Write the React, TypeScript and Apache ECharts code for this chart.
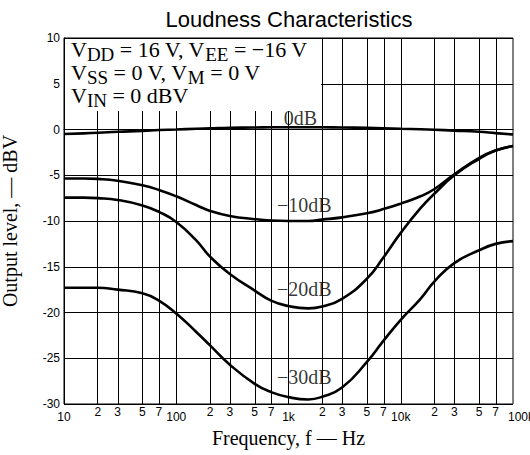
import React, { useEffect, useRef } from "react";
import * as echarts from "echarts";

// ---- data ----
const FREQS = [10, 15, 20, 30, 50, 70, 100, 150, 200, 300, 500, 700, 1000, 1500, 2000, 3000, 5000, 7000, 10000, 15000, 20000, 30000, 50000, 70000, 100000];
const CURVE_0DB = [-0.5, -0.42, -0.35, -0.25, -0.15, -0.05, 0.0, 0.08, 0.12, 0.18, 0.22, 0.24, 0.25, 0.25, 0.24, 0.22, 0.18, 0.14, 0.08, 0.02, -0.03, -0.12, -0.25, -0.4, -0.55];
const CURVE_10DB = [-5.35, -5.35, -5.4, -5.6, -6.1, -6.6, -7.3, -8.25, -8.9, -9.45, -9.8, -9.95, -10.0, -10.0, -9.85, -9.6, -9.15, -8.7, -8.1, -7.3, -6.5, -4.9, -3.1, -2.3, -1.8];
const CURVE_20DB = [-7.45, -7.45, -7.5, -7.7, -8.3, -9.0, -10.1, -12.1, -13.9, -15.8, -17.6, -18.7, -19.3, -19.55, -19.35, -18.5, -16.3, -14.0, -11.3, -8.6, -7.0, -5.0, -3.2, -2.3, -1.8];
const CURVE_30DB = [-17.3, -17.3, -17.3, -17.5, -17.9, -18.7, -20.1, -22.1, -23.6, -25.7, -27.8, -28.7, -29.25, -29.5, -29.2, -28.2, -25.4, -23.1, -20.8, -18.5, -16.6, -14.6, -13.2, -12.5, -12.2];

const LABEL_TEXTS = ["0dB", "\u221210dB", "\u221220dB", "\u221230dB"];
const LABEL_FREQS = [1280, 1380, 1380, 1380];
const LABEL_LEVELS = [1.22, -8.28, -17.4, -27.0];

const GRID_FREQS = [20, 30, 50, 70, 100, 200, 300, 500, 700, 1000, 2000, 3000, 5000, 7000, 10000, 20000, 30000, 50000, 70000];
const DECADE_FREQS = [10, 100, 1000, 10000, 100000];
const DECADE_LABELS = ["10", "100", "1k", "10k", "100k"];
const MINOR_FREQS = [20, 30, 50, 70, 200, 300, 500, 700, 2000, 3000, 5000, 7000, 20000, 30000, 50000, 70000];

const Y_MIN = -30;
const Y_MAX = 10;
const Y_STEP = 5;

const SANS = "'Liberation Sans', Arial, Helvetica, sans-serif";
const SERIF = "'Liberation Serif', 'Times New Roman', Times, serif";

const lg = (f: number) => Math.log10(f);

export default function App() {
  const ref = useRef<HTMLDivElement>(null);
  useEffect(() => {
    if (!ref.current) return;
    const chart = echarts.init(ref.current, undefined, { renderer: "svg" });
    const curve = (vals: number[]) => FREQS.map((f, i) => [lg(f), vals[i]]);
    const lineSeries = (name: string, vals: number[]) => ({
      name,
      type: "line",
      data: curve(vals),
      showSymbol: false,
      smooth: 0.5,
      lineStyle: { color: "#000", width: 2.6 },
      z: 3,
      silent: true,
    });
    const decadeLabel = (v: number) => {
      const i = DECADE_FREQS.findIndex((f) => Math.abs(lg(f) - v) < 1e-6);
      if (i < 0) return "";
      if (i === DECADE_FREQS.length - 1) return "{r|" + DECADE_LABELS[i] + "}";
      return DECADE_LABELS[i];
    };
    const minorLabel = (v: number) => {
      const f = Math.pow(10, v);
      const d = Math.round(f / Math.pow(10, Math.floor(v + 1e-9)));
      return String(d);
    };
    chart.setOption({
      animation: false,
      backgroundColor: "#fff",
      textStyle: { fontFamily: SANS },
      grid: {
        left: 64,
        right: 17,
        top: 38,
        bottom: 51,
        containLabel: false,
        outerBoundsMode: "none",
        show: true,
        borderColor: "#000",
        borderWidth: 1,
        backgroundColor: "transparent",
      },
      xAxis: [
        {
          type: "value",
          min: 1,
          max: 5,
          position: "bottom",
          name: "Frequency, f \u2014 Hz",
          nameLocation: "middle",
          nameGap: 24,
          nameTextStyle: { fontFamily: SERIF, fontSize: 20, color: "#000" },
          axisLine: { show: true, lineStyle: { color: "#000", width: 1 } },
          axisTick: { show: false },
          splitLine: { show: false },
          axisLabel: {
            customValues: DECADE_FREQS.map(lg),
            formatter: decadeLabel,
            margin: 7,
            fontSize: 12,
            color: "#000",
            fontFamily: SANS,
            rich: { r: { padding: [0, 0, 0, 16], fontSize: 12, color: "#000", fontFamily: SANS } },
          },
        },
        {
          type: "value",
          min: 1,
          max: 5,
          position: "bottom",
          axisLine: { show: false },
          axisTick: { show: false },
          splitLine: { show: false },
          axisLabel: {
            customValues: MINOR_FREQS.map(lg),
            formatter: minorLabel,
            margin: 2,
            fontSize: 12,
            color: "#000",
            fontFamily: SANS,
          },
        },
      ],
      yAxis: {
        type: "value",
        min: Y_MIN,
        max: Y_MAX,
        interval: Y_STEP,
        name: "Output level, \u2014 dBV",
        nameLocation: "middle",
        nameRotate: 90,
        nameGap: 44,
        nameTextStyle: { fontFamily: SERIF, fontSize: 20, color: "#000" },
        axisLine: { show: true, lineStyle: { color: "#000", width: 1 } },
        axisTick: { show: false },
        axisLabel: { fontSize: 12, color: "#000", margin: 4, fontFamily: SANS },
        splitLine: { show: true, lineStyle: { color: "#000", width: 1 } },
      },
      graphic: [
        {
          type: "text",
          x: 289,
          y: 8,
          z: 60,
          style: { text: "Loudness Characteristics", font: "22px " + SANS, fill: "#000", align: "center", verticalAlign: "top" },
        },
        {
          type: "rect",
          z: 50,
          shape: { x: 65, y: 39, width: 256, height: 72 },
          style: { fill: "#fff" },
        },
        {
          type: "text",
          x: 71,
          y: 38,
          z: 51,
          style: {
            text:
              "{v|V}{s|DD}{v| = 16 V, V}{s|EE}{v| = \u221216 V}\n" +
              "{v|V}{s|SS}{v| = 0 V, V}{s|M}{v| = 0 V}\n" +
              "{v|V}{s|IN}{v| = 0 dBV}",
            fill: "#000",
            verticalAlign: "top",
            align: "left",
            rich: {
              v: { fontFamily: SERIF, fontSize: 22, lineHeight: 23, fill: "#000" },
              s: { fontFamily: SERIF, fontSize: 19, lineHeight: 23, padding: [10, 0, 0, 0], fill: "#000" },
            },
          },
        },
      ],
      series: [
        {
          name: "grid",
          type: "line",
          data: [[1, Y_MIN]],
          showSymbol: false,
          lineStyle: { width: 0 },
          silent: true,
          z: 1,
          markLine: {
            silent: true,
            symbol: ["none", "none"],
            label: { show: false },
            lineStyle: { color: "#000", width: 1, type: "solid" },
            data: GRID_FREQS.map((f) => ({ xAxis: lg(f) })),
          },
        },
        lineSeries("0dB", CURVE_0DB),
        lineSeries("-10dB", CURVE_10DB),
        lineSeries("-20dB", CURVE_20DB),
        lineSeries("-30dB", CURVE_30DB),
        {
          name: "labels",
          type: "scatter",
          symbolSize: 0,
          silent: true,
          z: 4,
          data: LABEL_TEXTS.map((t, i) => [lg(LABEL_FREQS[i]), LABEL_LEVELS[i], t]),
          label: {
            show: true,
            position: "inside",
            formatter: (p: any) => p.data[2],
            fontFamily: SERIF,
            fontSize: 20,
            color: "#000",
          },
        },
      ],
    });
    return () => chart.dispose();
  }, []);
  return (
    <div
      ref={ref}
      style={{ position: "absolute", left: 0, top: 0, width: 530, height: 455, background: "#fff" }}
    />
  );
}
